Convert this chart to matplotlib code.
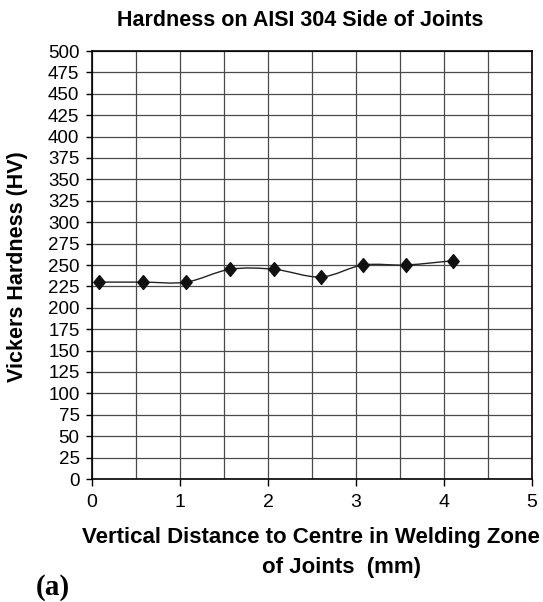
import matplotlib
matplotlib.use("Agg")
import matplotlib.pyplot as plt
from matplotlib.path import Path
from matplotlib.patches import PathPatch
import numpy as np

plt.rcParams['font.family'] = ['Liberation Sans', 'DejaVu Sans']

distance = [0.08, 0.58, 1.07, 1.57, 2.07, 2.6, 3.08, 3.57, 4.1]
hardness = [230, 230, 230, 245, 245, 236, 250, 250, 255]
y_ticks = list(range(0, 501, 25))
x_ticks = [0, 1, 2, 3, 4, 5]


def smooth_path(x, y, t=1 / 6):
    # Excel-like smoothed line: cubic bezier through every point
    x = np.asarray(x, float)
    y = np.asarray(y, float)
    verts = [(x[0], y[0])]
    codes = [Path.MOVETO]
    n = len(x)
    for i in range(n - 1):
        i0 = max(i - 1, 0)
        i3 = min(i + 2, n - 1)
        c1 = (x[i] + t * (x[i + 1] - x[i0]), y[i] + t * (y[i + 1] - y[i0]))
        c2 = (x[i + 1] - t * (x[i3] - x[i]), y[i + 1] - t * (y[i3] - y[i]))
        verts += [c1, c2, (x[i + 1], y[i + 1])]
        codes += [Path.CURVE4] * 3
    return Path(verts, codes)


fig = plt.figure(figsize=(5.43, 6.02), dpi=100)
ax = fig.add_axes([92 / 543, 1 - 479 / 602, 440 / 543, 428 / 602])

ax.set_xlim(0, 5)
ax.set_ylim(0, 500)
ax.set_xticks(x_ticks)
ax.set_xticks(np.arange(0, 5.01, 0.5), minor=True)
ax.set_yticks(y_ticks)
ax.grid(True, which='both', axis='x', color='#4a4a4a', linewidth=0.9)
ax.grid(True, which='major', axis='y', color='#4a4a4a', linewidth=0.9)
ax.tick_params(axis='x', which='minor', length=0)
ax.tick_params(axis='x', which='major', direction='out', length=5, pad=6,
               labelsize=14, width=1)
ax.tick_params(axis='y', which='major', direction='out', length=4, pad=5,
               labelsize=13.5, width=1)
for s in ax.spines.values():
    s.set_linewidth(1.2)

diamond = [(0, 1), (0.82, 0), (0, -1), (-0.82, 0), (0, 1)]

ax.add_patch(PathPatch(smooth_path(distance, hardness), facecolor='none',
                       edgecolor='#222222', linewidth=1.0, zorder=3))
ax.plot(distance, hardness, linestyle='none', marker=diamond, markersize=10,
        color='#111111', zorder=4)

fig.text(300 / 543, 1 - 26 / 602, 'Hardness on AISI 304 Side of Joints',
         fontsize=15.5, fontweight='bold', ha='center', va='baseline')
fig.text(17.5 / 543, 1 - 267 / 602, 'Vickers Hardness (HV)', fontsize=15.5,
         fontweight='bold', rotation=90, ha='center', va='center')
fig.text(82 / 543, 1 - 543 / 602, 'Vertical Distance to Centre in Welding Zone',
         fontsize=16, fontweight='bold', ha='left', va='baseline')
fig.text(342 / 543, 1 - 573 / 602, 'of Joints  (mm)',
         fontsize=16, fontweight='bold', ha='center', va='baseline')

fig.text(36 / 543, 1 - 595 / 602, '(a)', fontsize=21, fontweight='bold',
         family='Liberation Serif', va='baseline')

fig.savefig('out.png', dpi=100)
